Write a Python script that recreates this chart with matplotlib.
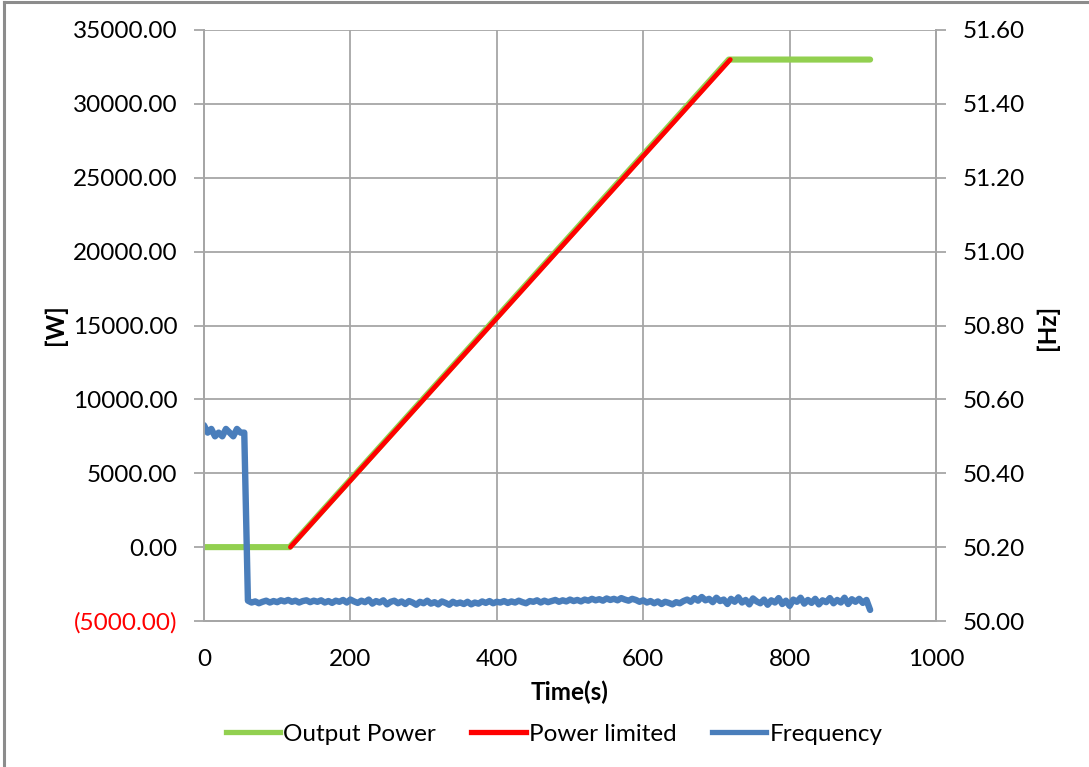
import numpy as np
import matplotlib
matplotlib.use('Agg')
import matplotlib.pyplot as plt
from matplotlib.lines import Line2D

plt.rcParams['font.family'] = ['Lato', 'DejaVu Sans']

# output power (W)
out_t = [0, 117, 717, 910]
out_p = [0, 0, 33000, 33000]

# power limited (W)
lim_t = [118, 719]
lim_p = [0, 33000]

# frequency (Hz), one reading every 5 s from 0 to 910 s
freq_t = list(range(0, 911, 5))
freq_hz = [
    50.53, 50.51, 50.52, 50.50, 50.51, 50.50, 50.52, 50.51, 50.50, 50.52, 50.51, 50.51,
    50.055, 50.050, 50.053, 50.048, 50.052, 50.055, 50.050, 50.054, 50.051, 50.056,
    50.053, 50.057, 50.052, 50.055, 50.050, 50.054, 50.056, 50.051, 50.055, 50.052,
    50.056, 50.050, 50.054, 50.049, 50.055, 50.052, 50.057, 50.050, 50.058, 50.053,
    50.049, 50.055, 50.051, 50.058, 50.047, 50.054, 50.050, 50.056, 50.045, 50.052,
    50.055, 50.048, 50.053, 50.046, 50.054, 50.050, 50.044, 50.052, 50.048, 50.055,
    50.047, 50.051, 50.045, 50.053, 50.049, 50.044, 50.052, 50.047, 50.050, 50.046,
    50.052, 50.045, 50.050, 50.047, 50.053, 50.049, 50.054, 50.048, 50.052, 50.050,
    50.054, 50.049, 50.053, 50.050, 50.055, 50.051, 50.048, 50.054, 50.052, 50.056,
    50.050, 50.055, 50.051, 50.054, 50.057, 50.052, 50.056, 50.053, 50.058, 50.054,
    50.057, 50.053, 50.058, 50.055, 50.060, 50.056, 50.059, 50.055, 50.061, 50.057,
    50.060, 50.056, 50.062, 50.058, 50.055, 50.060, 50.057, 50.052, 50.056, 50.050,
    50.054, 50.048, 50.053, 50.046, 50.052, 50.049, 50.045, 50.051, 50.048, 50.054,
    50.058, 50.052, 50.062, 50.055, 50.065, 50.056, 50.060, 50.051, 50.063, 50.054,
    50.058, 50.046, 50.060, 50.052, 50.064, 50.050, 50.057, 50.045, 50.061, 50.053,
    50.048, 50.058, 50.044, 50.056, 50.050, 50.062, 50.046, 50.055, 50.041, 50.058,
    50.052, 50.063, 50.047, 50.057, 50.049, 50.060, 50.045, 50.056, 50.051, 50.062,
    50.048, 50.057, 50.050, 50.063, 50.046, 50.059, 50.052, 50.060, 50.049, 50.057,
    50.030,
]

w_ticks = [-5000, 0, 5000, 10000, 15000, 20000, 25000, 30000, 35000]
hz_ticks = [50.0, 50.2, 50.4, 50.6, 50.8, 51.0, 51.2, 51.4, 51.6]
t_ticks = [0, 200, 400, 600, 800, 1000]

GRAY = '#a6a6a6'
FS = 17.5

fig = plt.figure(figsize=(10.89, 7.67), dpi=100)
ax = fig.add_axes([204/1089, 1-621/767, (936-204)/1089, (621-30)/767])
ax2 = ax.twinx()

ax.plot(out_t, out_p, color='#92D050', lw=4.4, solid_capstyle='round', label='Output Power', zorder=3)
ax.plot(lim_t, lim_p, color='#FF0000', lw=3.4, solid_capstyle='round', label='Power limited', zorder=4)
ax2.plot(freq_t, freq_hz, color='#4A7EBB', lw=4.6, solid_capstyle='round', label='Frequency')

ax.set_xlim(0, 1000)
ax.set_ylim(-5000, 35000)
ax2.set_ylim(50.0, 51.6)
ax.set_xticks(t_ticks)
ax.set_yticks(w_ticks)
ax2.set_yticks(hz_ticks)
ax.set_yticklabels(['(%.2f)' % -v if v < 0 else '%.2f' % v for v in w_ticks])
ax2.set_yticklabels(['%.2f' % v for v in hz_ticks])
for lab, v in zip(ax.get_yticklabels(), w_ticks):
    if v < 0:
        lab.set_color('#FF0000')

ax.grid(True, color=GRAY, lw=1.3)
ax.set_axisbelow(True)
for a in (ax, ax2):
    for s in a.spines.values():
        s.set_color(GRAY)
        s.set_linewidth(1.3)
    a.spines['top'].set_visible(False)
ax.tick_params(axis='y', length=7, width=1.3, color=GRAY, labelsize=FS, pad=12)
ax.tick_params(axis='x', length=0, labelsize=FS, pad=20)
ax2.tick_params(axis='y', length=7, width=1.3, color=GRAY, labelsize=FS, pad=12)

ax.set_xlabel('Time(s)', fontsize=FS, fontweight='bold', labelpad=8)
fig.text(55/1089, 1-325/767, '[W]', rotation=90, fontsize=FS, fontweight='bold', ha='center', va='center')
fig.text(1047/1089, 1-327/767, '[Hz]', rotation=90, fontsize=FS, fontweight='bold', ha='center', va='center')

handles = [Line2D([], [], color='#92D050', lw=3.8),
           Line2D([], [], color='#FF0000', lw=3.8),
           Line2D([], [], color='#4A7EBB', lw=3.8)]
fig.legend(handles, ['Output Power', 'Power limited', 'Frequency'], loc='center',
           bbox_to_anchor=(554/1089, 1-734/767), ncol=3, frameon=False, fontsize=FS,
           handlelength=2.25, handletextpad=0.12, columnspacing=1.45)

# outer chart border (cut by the screenshot)
fig.add_artist(Line2D([4/1089, 4/1089], [0, 1-2/767], color='#8c8c8c', lw=2.2, transform=fig.transFigure))
fig.add_artist(Line2D([4/1089, 1], [1-2/767, 1-2/767], color='#8c8c8c', lw=2.2, transform=fig.transFigure))

fig.savefig('out.png', dpi=100)
